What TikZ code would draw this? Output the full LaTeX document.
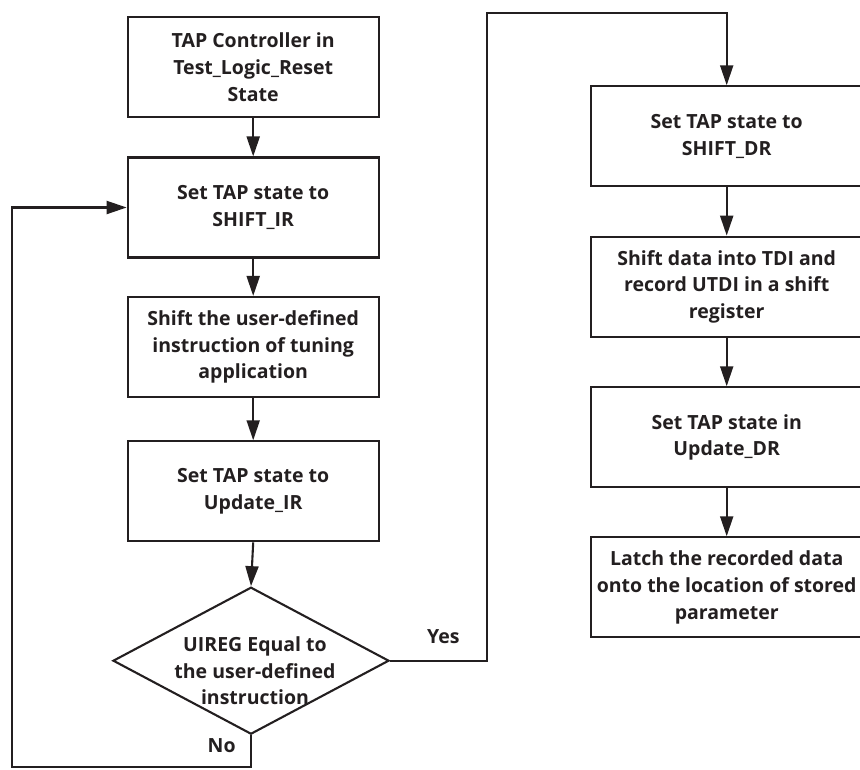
\documentclass[tikz,border=0pt]{standalone}
\usepackage{fontspec}
\setmainfont{Open Sans}
\usetikzlibrary{shapes.geometric,arrows.meta}
\definecolor{ink}{HTML}{231F20}
\tikzset{
  flowbox/.style={draw=ink, line width=2.1pt, inner sep=0pt, align=center,
    text=ink, font=\fontsize{19.5}{26.7}\selectfont\bfseries},
  leftbox/.style={flowbox, minimum width=251pt, minimum height=100pt},
  rightbox/.style={flowbox, minimum width=271.4pt, minimum height=100pt},
  decision/.style={draw=ink, line width=2.1pt, diamond, inner sep=0pt,
    minimum width=276pt, minimum height=147pt},
  dtext/.style={align=center, text=ink, inner sep=0pt,
    font=\fontsize{19.5}{26.7}\selectfont\bfseries},
  lbl/.style={text=ink, inner sep=0pt, font=\fontsize{19.5}{24}\selectfont\bfseries},
  flow/.style={draw=ink, line width=2.1pt, -{Triangle[length=20pt,width=13pt]}},
  plain/.style={draw=ink, line width=2.1pt}
}
\begin{document}
\begin{tikzpicture}[x=1pt,y=-1pt]
\useasboundingbox (0,0) rectangle (860,769);
\clip (0,0) rectangle (860,769);
% left column
\node[leftbox] (b1) at (253.2,67.3) {TAP Controller in\\Test\_Logic\_Reset\\State};
\node[leftbox] (b2) at (253.2,207.5) {Set TAP state to\\SHIFT\_IR};
\node[leftbox] (b3) at (253.2,347) {Shift the user-defined\\instruction of tuning\\application};
\node[leftbox] (b4) at (253.2,491.3) {Set TAP state to\\Update\_IR};
\node[decision] (dec) at (251,660.7) {};
\node[dtext] (dect) at (255,670.7) {UIREG Equal to\\the user-defined\\instruction};
% right column
\node[rightbox] (r1) at (726.7,136.3) {Set TAP state to\\SHIFT\_DR};
\node[rightbox] (r2) at (726.7,286.7) {Shift data into TDI and\\record UTDI in a shift\\register};
\node[rightbox] (r3) at (726.7,437.3) {Set TAP state in\\Update\_DR};
\node[rightbox] (r4) at (726.7,587.3) {Latch the recorded data\\onto the location of stored\\parameter};
% labels
\node[lbl] (yes) at (443.3,636.7) {Yes};
\node[lbl] (no) at (221.7,745.7) {No};
% routing points
\coordinate (nob) at (251,767.3);
\coordinate (nol) at (12.3,767.3);
\coordinate (yesr) at (487.3,660.7);
\coordinate (yest) at (487.3,12.7);
\coordinate (topr) at (726.7,12.7);
% connectors
\draw[flow] (b1) -- (b2);
\draw[flow] (b2) -- (b3);
\draw[flow] (b3) -- (b4);
\draw[flow] (b4.south) -- (dec.north);
\draw[flow] (r1) -- (r2);
\draw[flow] (r2) -- (r3);
\draw[flow] (r3) -- (r4);
\draw[flow] (dec.south) -- (nob) -- (nol) -- (nol |- b2.west) -- (b2.west);
\draw[flow] (dec.east) -- (yesr) -- (yest) -- (topr) -- (r1.north);
\end{tikzpicture}
\end{document}
